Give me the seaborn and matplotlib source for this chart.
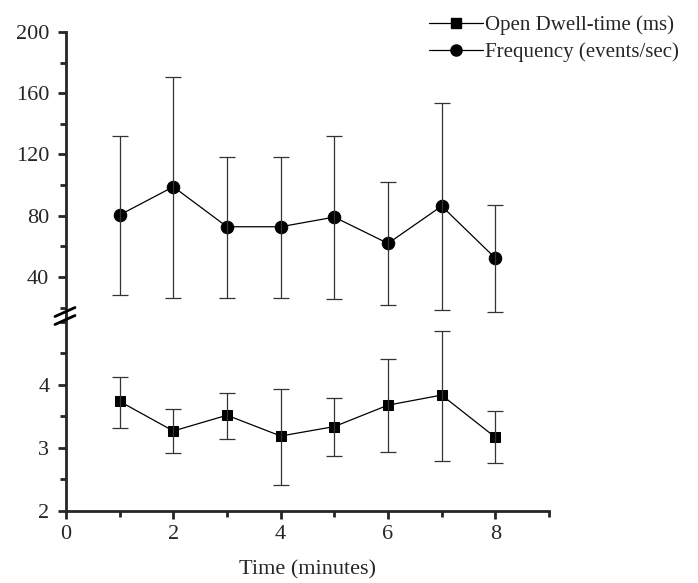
import matplotlib
matplotlib.use("Agg")
import matplotlib.pyplot as plt
from matplotlib.lines import Line2D
from matplotlib.ticker import MultipleLocator
import seaborn as sns
import pandas as pd
import numpy as np

# Data
minutes = [1, 2, 3, 4, 5, 6, 7, 8]
freq = [80.5, 98.9, 72.8, 72.8, 79.1, 61.9, 86.3, 52.3]
freq_hi = [132, 170.4, 118.2, 118.2, 132, 101.7, 153.7, 86.7]
freq_lo = [28, 26, 26.2, 26.2, 25.6, 21.7, 18.2, 17.1]
dwell = [3.74, 3.27, 3.52, 3.19, 3.34, 3.68, 3.84, 3.17]
dwell_hi = [4.12, 3.62, 3.88, 3.94, 3.79, 4.41, 4.86, 3.58]
dwell_lo = [3.31, 2.92, 3.15, 2.42, 2.88, 2.93, 2.79, 2.76]

df = pd.DataFrame({"t": minutes, "freq": freq, "dwell": dwell})

sns.set_style("ticks")
plt.rcParams["font.family"] = ["Liberation Serif", "DejaVu Serif"]
plt.rcParams["font.size"] = 16

W, H = 698, 583
fig = plt.figure(figsize=(W / 100, H / 100), dpi=100)
left, right = 66 / W, 549 / W
y_top, y_mid, y_bot = 32, 316, 511
ax_top = fig.add_axes([left, 1 - y_mid / H, right - left, (y_mid - y_top) / H])
ax_bot = fig.add_axes([left, 1 - y_bot / H, right - left, (y_bot - y_mid) / H], sharex=ax_top)

# top panel: frequency
sns.lineplot(data=df, x="t", y="freq", ax=ax_top, color="black", lw=0.9,
             marker="o", markersize=9, markeredgecolor="black")
ax_top.errorbar(minutes, freq,
                yerr=[np.subtract(freq, freq_lo), np.subtract(freq_hi, freq)],
                fmt="none", ecolor="#333333", elinewidth=0.9, capsize=6, capthick=0.9)

# bottom panel: dwell time
sns.lineplot(data=df, x="t", y="dwell", ax=ax_bot, color="black", lw=0.9,
             marker="s", markersize=6.5, markeredgecolor="black")
ax_bot.errorbar(minutes, dwell,
                yerr=[np.subtract(dwell, dwell_lo), np.subtract(dwell_hi, dwell)],
                fmt="none", ecolor="#333333", elinewidth=0.9, capsize=6, capthick=0.9)

ax_top.set_ylim(14.5, 200)
ax_bot.set_ylim(2, 5.095)
ax_bot.set_xlim(0, 9)

ax_top.set_yticks([40, 80, 120, 160, 200])
ax_top.yaxis.set_minor_locator(MultipleLocator(20))
ax_bot.set_yticks([2, 3, 4])
ax_bot.yaxis.set_minor_locator(MultipleLocator(0.5))
ax_bot.set_xticks([0, 2, 4, 6, 8])
ax_bot.xaxis.set_minor_locator(MultipleLocator(1))

for ax in (ax_top, ax_bot):
    ax.set_xlabel("")
    ax.set_ylabel("")
    for s in ("top", "right"):
        ax.spines[s].set_visible(False)
    ax.spines["left"].set_linewidth(2)
    ax.spines["bottom"].set_linewidth(2)
    ax.tick_params(which="major", direction="out", length=6, width=2, labelsize=16)
    ax.tick_params(which="minor", direction="out", length=4, width=2)
    ax.tick_params(axis="y", which="major", pad=6)
    ax.tick_params(axis="x", which="major", pad=4)

ax_top.spines["bottom"].set_visible(False)
ax_top.tick_params(axis="x", which="both", bottom=False, labelbottom=False)
ax_bot.set_xlabel("Time (minutes)", fontsize=16, labelpad=12)

# axis break marks
for dy in (-4, 4):
    yb = 1 - (y_mid + dy) / H
    fig.add_artist(Line2D([left - 11 / W, left + 9 / W], [yb - 4.5 / H, yb + 4.5 / H],
                          color="black", lw=2, transform=fig.transFigure))

handles = [
    Line2D([], [], color="black", lw=0.9, marker="s", markersize=6.5),
    Line2D([], [], color="black", lw=0.9, marker="o", markersize=8),
]
fig.legend(handles, ["Open Dwell-time (ms)", "Frequency (events/sec)"],
           loc="upper left", bbox_to_anchor=(414 / W, 1 - 1 / H), frameon=False,
           fontsize=15, handlelength=2.6, handletextpad=0.1, labelspacing=0.35,
           borderpad=0.2)

fig.savefig("out.png", dpi=100)
